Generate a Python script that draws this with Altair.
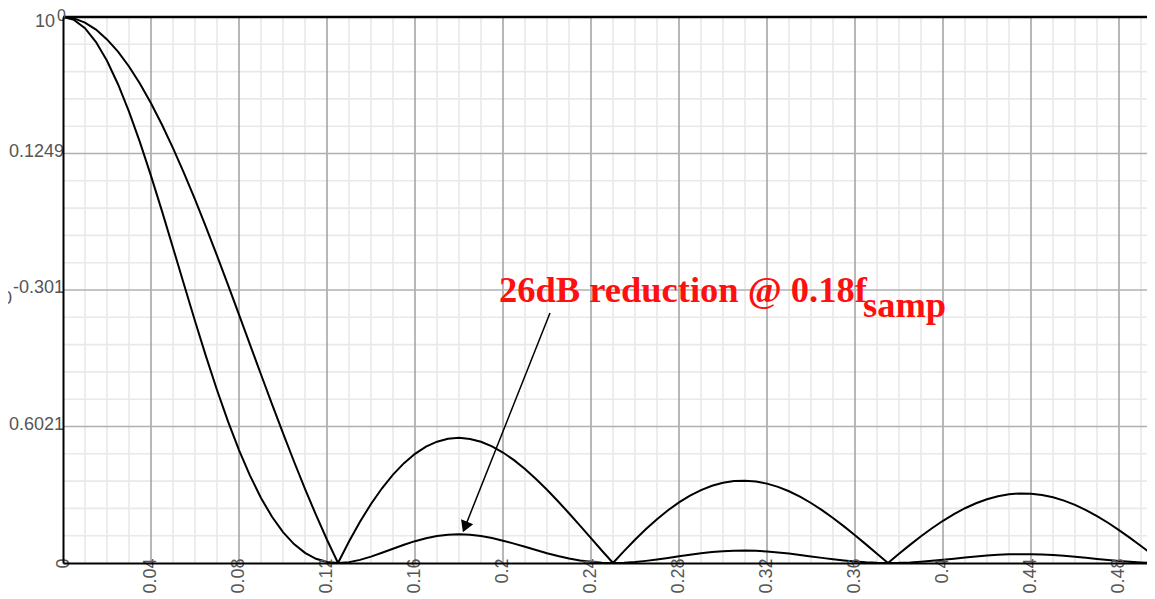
import altair as alt
import pandas as pd

# ---- data ----
freq = [0.0, 0.005, 0.01, 0.015, 0.02, 0.025, 0.03, 0.035, 0.04, 0.045,
        0.05, 0.055, 0.06, 0.065, 0.07, 0.075, 0.08, 0.085, 0.09, 0.095,
        0.1, 0.105, 0.11, 0.115, 0.12, 0.125, 0.13, 0.135, 0.14, 0.145,
        0.15, 0.155, 0.16, 0.165, 0.17, 0.175, 0.18, 0.185, 0.19, 0.195,
        0.2, 0.205, 0.21, 0.215, 0.22, 0.225, 0.23, 0.235, 0.24, 0.245,
        0.25, 0.255, 0.26, 0.265, 0.27, 0.275, 0.28, 0.285, 0.29, 0.295,
        0.3, 0.305, 0.31, 0.315, 0.32, 0.325, 0.33, 0.335, 0.34, 0.345,
        0.35, 0.355, 0.36, 0.365, 0.37, 0.375, 0.38, 0.385, 0.39, 0.395,
        0.4, 0.405, 0.41, 0.415, 0.42, 0.425, 0.43, 0.435, 0.44, 0.445,
        0.45, 0.455, 0.46, 0.465, 0.47, 0.475, 0.48, 0.485, 0.49, 0.495, 0.5]

first_order = [1.0, 0.9974, 0.9897, 0.9769, 0.9590, 0.9365, 0.9093, 0.8777, 0.8421, 0.8027,
               0.7600, 0.7142, 0.6658, 0.6152, 0.5629, 0.5093, 0.4548, 0.4000, 0.3452, 0.2910,
               0.2378, 0.1859, 0.1358, 0.0880, 0.0426, 0.0, 0.0395, 0.0755, 0.1081, 0.1369,
               0.1618, 0.1829, 0.1999, 0.2130, 0.2222, 0.2275, 0.2292, 0.2272, 0.2220, 0.2135,
               0.2023, 0.1884, 0.1722, 0.1540, 0.1342, 0.1131, 0.0911, 0.0684, 0.0454, 0.0225,
               0.0, 0.0218, 0.0426, 0.0622, 0.0803, 0.0966, 0.1111, 0.1234, 0.1336, 0.1414,
               0.1469, 0.1501, 0.1508, 0.1493, 0.1454, 0.1394, 0.1314, 0.1215, 0.1099, 0.0968,
               0.0825, 0.0671, 0.0509, 0.0341, 0.0171, 0.0, 0.0169, 0.0332, 0.0489, 0.0637,
               0.0773, 0.0895, 0.1003, 0.1094, 0.1168, 0.1223, 0.1258, 0.1274, 0.1270, 0.1246,
               0.1204, 0.1142, 0.1064, 0.0969, 0.0860, 0.0737, 0.0603, 0.0461, 0.0311, 0.0157, 0.0]

second_order = [1.0, 0.9948, 0.9794, 0.9542, 0.9198, 0.8769, 0.8268, 0.7704, 0.7091, 0.6444,
                0.5775, 0.5100, 0.4433, 0.3785, 0.3168, 0.2593, 0.2068, 0.1600, 0.1192, 0.0847,
                0.0565, 0.0346, 0.0185, 0.0077, 0.0018, 0.0, 0.0016, 0.0057, 0.0117, 0.0187,
                0.0262, 0.0334, 0.0400, 0.0454, 0.0494, 0.0518, 0.0525, 0.0516, 0.0493, 0.0456,
                0.0409, 0.0355, 0.0297, 0.0237, 0.0180, 0.0128, 0.0083, 0.0047, 0.0021, 0.0005,
                0.0, 0.0005, 0.0018, 0.0039, 0.0064, 0.0093, 0.0123, 0.0152, 0.0178, 0.0200,
                0.0216, 0.0225, 0.0228, 0.0223, 0.0212, 0.0194, 0.0173, 0.0148, 0.0121, 0.0094,
                0.0068, 0.0045, 0.0026, 0.0012, 0.0003, 0.0, 0.0003, 0.0011, 0.0024, 0.0041,
                0.0060, 0.0080, 0.0101, 0.0120, 0.0136, 0.0150, 0.0158, 0.0162, 0.0161, 0.0155,
                0.0145, 0.0131, 0.0113, 0.0094, 0.0074, 0.0054, 0.0036, 0.0021, 0.0010, 0.0003, 0.0]

x_ticks = [0, 0.04, 0.08, 0.12, 0.16, 0.2, 0.24, 0.28, 0.32, 0.36, 0.4, 0.44, 0.48]
x_minor = [0.01, 0.02, 0.03, 0.05, 0.06, 0.07, 0.09, 0.1, 0.11, 0.13, 0.14, 0.15,
           0.17, 0.18, 0.19, 0.21, 0.22, 0.23, 0.25, 0.26, 0.27, 0.29, 0.3, 0.31,
           0.33, 0.34, 0.35, 0.37, 0.38, 0.39, 0.41, 0.42, 0.43, 0.45, 0.46, 0.47, 0.49]
y_major = [0.25, 0.5, 0.75]
y_minor = [0.05, 0.1, 0.15, 0.2, 0.3, 0.35, 0.4, 0.45, 0.55, 0.6, 0.65, 0.7,
           0.8, 0.85, 0.9, 0.95]
y_label_vals = [0.75, 0.5, 0.25]
y_label_texts = ["0.1249", "-0.301", "0.6021"]

annotation = "26dB reduction @ 0.18f"
annotation_sub = "samp"

# ---- chart ----
xs = alt.Scale(domain=[0, 0.49273], nice=False, zero=False)
ys = alt.Scale(domain=[0, 1], nice=False, zero=False)

X_AX = alt.Axis(values=x_ticks, format="~g", labelAngle=270,
                labelAlign="right", labelBaseline="middle",
                labelPadding=-5, ticks=False, grid=False,
                domainColor="black", domainWidth=2,
                labelFontSize=18, labelFont="Liberation Sans",
                labelColor="#555555", labelOverlap=False,
                labelFlush=False, zindex=1, title=None)
Y_AX = alt.Axis(labels=False, ticks=False, grid=False,
                domainColor="black", domainWidth=2, zindex=1, title=None)


def X(field):
    return alt.X(field, scale=xs, axis=X_AX, title=None)


def Y(field):
    return alt.Y(field, scale=ys, axis=Y_AX, title=None)


curves = pd.DataFrame({
    "f": freq * 2,
    "h": first_order + second_order,
    "series": ["first"] * len(freq) + ["second"] * len(freq),
})

minor_v = alt.Chart(pd.DataFrame({"v": x_minor})).mark_rule(
    color="#e9e9e9", strokeWidth=1.6).encode(x=X("v:Q"))
minor_h = alt.Chart(pd.DataFrame({"v": y_minor})).mark_rule(
    color="#e9e9e9", strokeWidth=1.6).encode(y=Y("v:Q"))
major_v = alt.Chart(pd.DataFrame({"v": x_ticks[1:]})).mark_rule(
    color="#a0a0a0", strokeWidth=1.5).encode(x=X("v:Q"))
major_h = alt.Chart(pd.DataFrame({"v": y_major})).mark_rule(
    color="#b0b0b0", strokeWidth=1.5).encode(y=Y("v:Q"))
top_border = alt.Chart(pd.DataFrame({"v": [1]})).mark_rule(
    color="black", strokeWidth=2.5).encode(y=Y("v:Q"))

lines = alt.Chart(curves).mark_line(color="black", strokeWidth=2, clip=True).encode(
    x=X("f:Q"), y=Y("h:Q"), detail="series:N")

ylab = alt.Chart(pd.DataFrame({"x0": [0] * 3, "v": y_label_vals, "t": y_label_texts})).mark_text(
    align="right", baseline="middle", dx=1, dy=-2, fontSize=18,
    font="Liberation Sans", color="#555555").encode(x=X("x0:Q"), y=Y("v:Q"), text="t:N")

top_base = alt.Chart(pd.DataFrame({"x0": [0], "v": [1], "t": ["10"]})).mark_text(
    align="right", baseline="middle", dx=-8, dy=4.5, fontSize=18,
    font="Liberation Sans", color="#555555").encode(x=X("x0:Q"), y=Y("v:Q"), text="t:N")
top_exp = alt.Chart(pd.DataFrame({"x0": [0], "v": [1], "t": ["0"]})).mark_text(
    align="left", baseline="top", dx=-6, dy=-9, fontSize=16,
    font="Liberation Sans", color="#555555").encode(x=X("x0:Q"), y=Y("v:Q"), text="t:N")
mid_base = alt.Chart(pd.DataFrame({"x0": [0], "v": [0.5], "t": ["10"]})).mark_text(
    align="right", baseline="middle", dx=-51, dy=9, fontSize=18,
    font="Liberation Sans", color="#555555").encode(x=X("x0:Q"), y=Y("v:Q"), text="t:N")

arrow_line = alt.Chart(pd.DataFrame({"x": [0.22136, 0.18273], "y": [0.45788, 0.06593]})).mark_line(
    color="black", strokeWidth=1.5).encode(x=X("x:Q"), y=Y("y:Q"))
arrow_head = alt.Chart(pd.DataFrame({"x": [0.18273], "y": [0.06593]})).mark_point(
    shape="triangle-down", filled=True, size=170, angle=22, color="black", opacity=1).encode(
    x=X("x:Q"), y=Y("y:Q"))

label_main = alt.Chart(pd.DataFrame({"x": [0.19818], "y": [0.47802], "t": [annotation]})).mark_text(
    align="left", baseline="alphabetic", fontSize=36.5, fontWeight="bold",
    font="Liberation Serif", color="#ff1010").encode(x=X("x:Q"), y=Y("y:Q"), text="t:N")
label_sub = alt.Chart(pd.DataFrame({"x": [0.36364], "y": [0.45055], "t": [annotation_sub]})).mark_text(
    align="left", baseline="alphabetic", fontSize=36.5, fontWeight="bold",
    font="Liberation Serif", color="#ff1010").encode(x=X("x:Q"), y=Y("y:Q"), text="t:N")

chart = alt.layer(
    minor_v, minor_h, major_v, major_h, top_border, lines,
    ylab, top_base, top_exp, mid_base,
    arrow_line, arrow_head, label_main, label_sub,
).properties(
    width=1084, height=546,
    padding={"left": 55, "top": 9, "right": 0, "bottom": 36},
    autosize=alt.AutoSizeParams(type="none"),
    background="white",
).configure_view(stroke=None)

chart.save("out.html", embed_options={"renderer": "svg", "actions": False})
